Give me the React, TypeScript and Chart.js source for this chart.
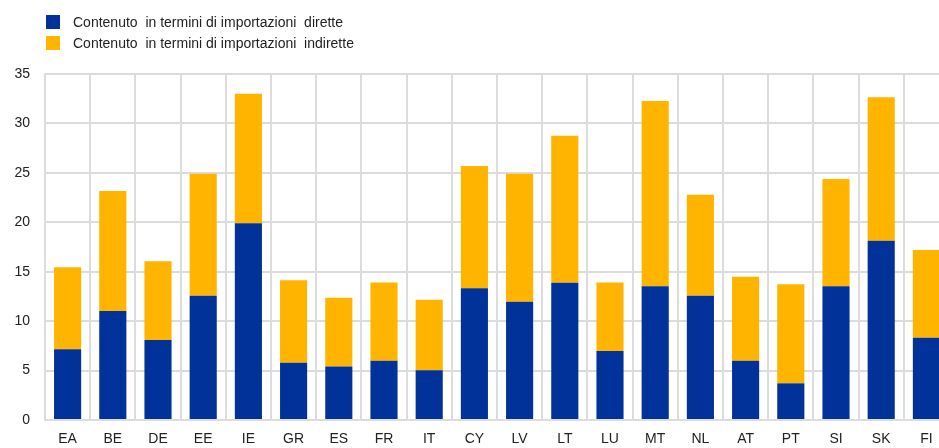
import React, { useEffect, useRef } from "react";
import { Chart, registerables } from "chart.js";

Chart.register(...registerables);

const categories = ["EA", "BE", "DE", "EE", "IE", "GR", "ES", "FR", "IT", "CY", "LV", "LT", "LU", "MT", "NL", "AT", "PT", "SI", "SK", "FI"];
const directValues = [7.15, 11.03, 8.09, 12.58, 19.9, 5.8, 5.4, 6.0, 5.02, 13.32, 11.97, 13.89, 6.98, 13.52, 12.58, 6.0, 3.71, 13.52, 18.14, 8.33];
const indirectValues = [8.3, 12.13, 7.96, 12.34, 13.1, 8.33, 6.97, 7.92, 7.15, 12.37, 12.95, 14.87, 6.94, 18.75, 10.21, 8.5, 10.01, 10.86, 14.5, 8.87];
const seriesNames = ["Contenuto  in termini di importazioni  dirette", "Contenuto  in termini di importazioni  indirette"];
const seriesColors = ["#003299", "#FFB400"];
const yMin = 0;
const yMax = 35;
const yStep = 5;

const FONT = "'Liberation Sans', Arial, sans-serif";
const GRID = "#dcdcdc";

export default function App() {
  const canvasRef = useRef<HTMLCanvasElement | null>(null);

  useEffect(() => {
    const canvas = canvasRef.current;
    if (!canvas) return;
    const chart = new Chart(canvas, {
      type: "bar",
      data: {
        labels: categories,
        datasets: [
          { label: seriesNames[0], data: directValues, backgroundColor: seriesColors[0], borderWidth: 0 },
          { label: seriesNames[1], data: indirectValues, backgroundColor: seriesColors[1], borderWidth: 0 },
        ],
      },
      options: {
        animation: false,
        responsive: true,
        maintainAspectRatio: false,
        layout: { padding: { top: 74, left: 0, right: 0, bottom: 0 } },
        plugins: {
          legend: { display: false },
          tooltip: { enabled: false },
        },
        datasets: { bar: { categoryPercentage: 1, barPercentage: 0.6 } },
        scales: {
          x: {
            stacked: true,
            offset: true,
            grid: { color: GRID, lineWidth: 2, drawTicks: false, offset: true },
            border: { color: GRID, width: 2 },
            ticks: { color: "#222", font: { family: FONT, size: 14 }, padding: 11, maxRotation: 0, autoSkip: false },
            afterFit: (s: any) => { s.height = 28; },
          },
          y: {
            stacked: true,
            min: yMin,
            max: yMax,
            grid: { color: GRID, lineWidth: 2, drawTicks: false },
            border: { color: GRID, width: 2 },
            ticks: { stepSize: yStep, color: "#222", font: { family: FONT, size: 14 }, padding: 15 },
            afterFit: (s: any) => { s.width = 45; },
          },
        },
      },
    });
    return () => chart.destroy();
  }, []);

  return (
    <div style={{ position: "fixed", left: 0, top: 0, width: 939, height: 448, overflow: "hidden", background: "#fff" }}>
      <div style={{ position: "absolute", left: 0, top: 0, width: 949, height: 448 }}>
        <canvas ref={canvasRef} />
      </div>
      <div style={{ position: "absolute", left: 46, top: 15, fontFamily: FONT, fontSize: 14, color: "#222", lineHeight: "14px" }}>
        {seriesNames.map((name, i) => (
          <div key={name} style={{ display: "flex", alignItems: "center", height: 14, marginBottom: i === 0 ? 7 : 0 }}>
            <span style={{ display: "inline-block", width: 14, height: 14, background: seriesColors[i], marginRight: 13 }} />
            <span style={{ whiteSpace: "pre" }}>{name}</span>
          </div>
        ))}
      </div>
    </div>
  );
}
